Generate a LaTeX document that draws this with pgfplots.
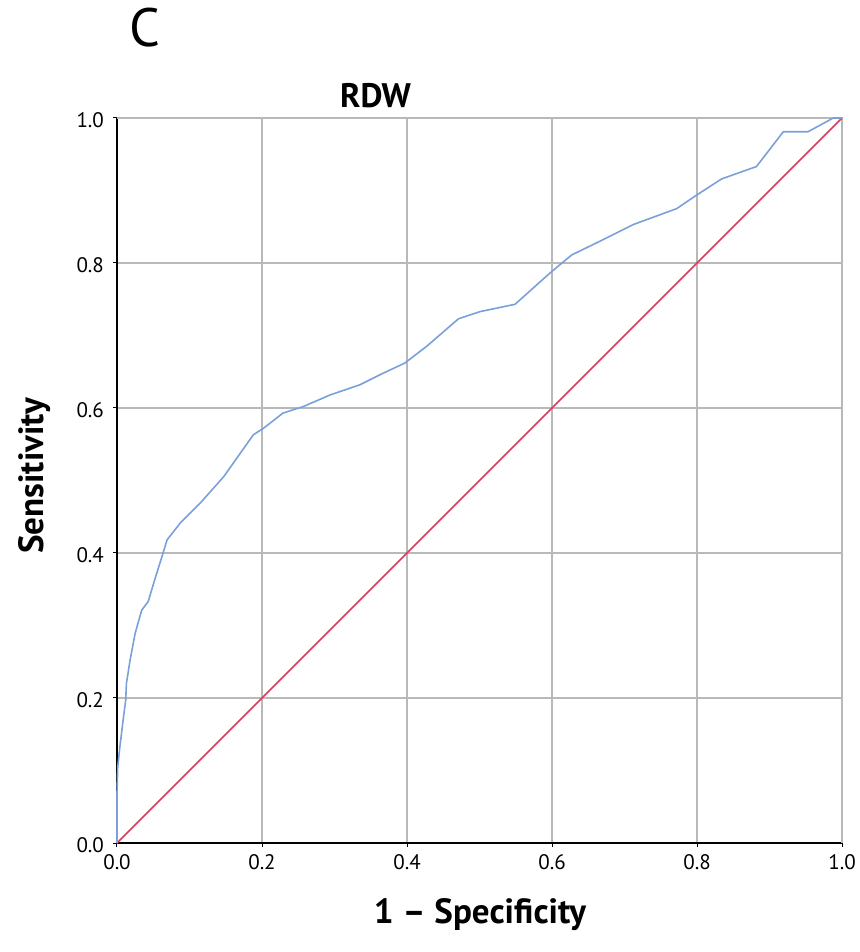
\documentclass[border=0pt]{standalone}
\usepackage{fontspec}
\setmainfont{PT Sans}
\usepackage{pgfplots}
\pgfplotsset{compat=1.18}
\definecolor{roc}{RGB}{122,160,218}
\definecolor{ref}{RGB}{208,64,92}
\begin{document}
\begin{tikzpicture}
\useasboundingbox (-58.5pt,-54.5pt) rectangle (371pt,421.5pt);
\begin{axis}[
  at={(0,0)}, anchor=south west,
  scale only axis, width=362.5pt, height=362.5pt,
  xmin=0, xmax=1, ymin=0, ymax=1,
  xtick={0,0.2,...,1.0}, ytick={0,0.2,...,1.0},
  grid=major, grid style={gray!55, line width=0.6pt},
  axis x line*=bottom, axis y line*=left,
  axis line style={black, line width=0.6pt},
  tick style={black, line width=0.5pt}, tick align=outside, major tick length=2pt,
  /pgf/number format/assume math mode=true,
  /pgf/number format/.cd, fixed, fixed zerofill, precision=1, /pgfplots/.cd,
  tick label style={font=\fontsize{10.5}{12}\selectfont},
  xticklabel style={yshift=0pt},
  yticklabel style={xshift=-1pt, yshift=-1pt},
  clip=false,
]
\draw[gray!55, line width=0.6pt] (axis cs:0,1) -- (axis cs:1,1) -- (axis cs:1,0);
\addplot[ref, line width=0.8pt] coordinates {(0,0) (1,1)};
\addplot[roc, line width=0.8pt] coordinates {
(0,0) (0,0.069) (0.001,0.105) (0.004,0.133) (0.009,0.174) (0.012,0.197) (0.013,0.22)
(0.018,0.252) (0.025,0.289) (0.034,0.321) (0.043,0.333) (0.052,0.363) (0.062,0.395)
(0.069,0.418) (0.087,0.441) (0.114,0.468) (0.147,0.505) (0.188,0.563) (0.202,0.572)
(0.229,0.593) (0.257,0.602) (0.294,0.618) (0.335,0.632) (0.363,0.646) (0.397,0.662)
(0.427,0.685) (0.471,0.723) (0.501,0.733) (0.549,0.743) (0.597,0.786) (0.627,0.811)
(0.666,0.830) (0.712,0.853) (0.772,0.875) (0.800,0.894) (0.834,0.916) (0.882,0.933)
(0.919,0.981) (0.953,0.981) (0.988,1.0) (1,1)
};
\end{axis}
\node[font=\bfseries\fontsize{17}{19}\selectfont] at (129.25pt,373.5pt) {RDW};
\node[font=\fontsize{27}{30}\selectfont] at (14pt,407.5pt) {C};
\node[font=\bfseries\fontsize{17.5}{19}\selectfont, rotate=90] at (-41pt,183.5pt) {Sensitivity};
\node[font=\bfseries\fontsize{17.5}{19}\selectfont] at (181.5pt,-36pt) {1 -- Specificity};
\end{tikzpicture}
\end{document}
